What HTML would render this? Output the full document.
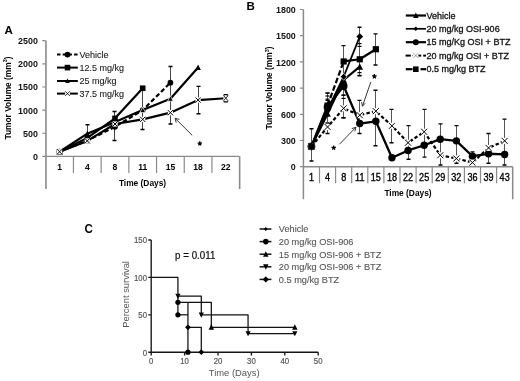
<!DOCTYPE html>
<html><head><meta charset="utf-8"><style>
html,body{margin:0;padding:0;background:#fff;}
body{width:520px;height:381px;overflow:hidden;}
svg{display:block;font-family:"Liberation Sans", sans-serif;filter:blur(0.35px);}
</style></head><body>
<svg width="520" height="381" viewBox="0 0 520 381">
<rect width="520" height="381" fill="#fff"/>
<text x="4.5" y="34.2" font-size="11.5" text-anchor="start" font-weight="bold" fill="#000">A</text>
<path d="M45.95 40.7V189M239.65 156.4V189" stroke="#8a8a8a" stroke-width="1.6" fill="none"/>
<path d="M45.75 156.4H239.65" stroke="#8a8a8a" stroke-width="1.4" fill="none"/>
<text transform="translate(37.9 159.9) scale(0.91 1)" font-size="9.8" text-anchor="end" font-weight="bold" fill="#111">0</text>
<text transform="translate(37.9 136.76) scale(0.91 1)" font-size="9.8" text-anchor="end" font-weight="bold" fill="#111">500</text>
<text transform="translate(37.9 113.62) scale(0.91 1)" font-size="9.8" text-anchor="end" font-weight="bold" fill="#111">1000</text>
<text transform="translate(37.9 90.48) scale(0.91 1)" font-size="9.8" text-anchor="end" font-weight="bold" fill="#111">1500</text>
<text transform="translate(37.9 67.34) scale(0.91 1)" font-size="9.8" text-anchor="end" font-weight="bold" fill="#111">2000</text>
<text transform="translate(37.9 44.2) scale(0.91 1)" font-size="9.8" text-anchor="end" font-weight="bold" fill="#111">2500</text>
<path d="M42.3 156.4H45.75M42.3 133.26H45.75M42.3 110.12H45.75M42.3 86.98H45.75M42.3 63.84H45.75M42.3 40.7H45.75M73.45 156.4V173M101.15 156.4V173M128.85 156.4V173M156.55 156.4V173M184.25 156.4V173M211.95 156.4V173" stroke="#8a8a8a" stroke-width="1.2" fill="none"/>
<text transform="translate(59.6 170.3) scale(0.93 1)" font-size="9.2" text-anchor="middle" font-weight="bold" fill="#000">1</text>
<text transform="translate(87.3 170.3) scale(0.93 1)" font-size="9.2" text-anchor="middle" font-weight="bold" fill="#000">4</text>
<text transform="translate(115 170.3) scale(0.93 1)" font-size="9.2" text-anchor="middle" font-weight="bold" fill="#000">8</text>
<text transform="translate(142.7 170.3) scale(0.93 1)" font-size="9.2" text-anchor="middle" font-weight="bold" fill="#000">11</text>
<text transform="translate(170.4 170.3) scale(0.93 1)" font-size="9.2" text-anchor="middle" font-weight="bold" fill="#000">15</text>
<text transform="translate(198.1 170.3) scale(0.93 1)" font-size="9.2" text-anchor="middle" font-weight="bold" fill="#000">18</text>
<text transform="translate(225.8 170.3) scale(0.93 1)" font-size="9.2" text-anchor="middle" font-weight="bold" fill="#000">22</text>
<text transform="translate(142.5 186.3) scale(0.92 1)" font-size="9.1" text-anchor="middle" font-weight="bold" fill="#000">Time (Days)</text>
<text transform="translate(10.5 98) rotate(-90) scale(0.92 1)" font-size="9.1" text-anchor="middle" font-weight="bold" fill="#000">Tumor Volume (mm<tspan font-size="6" dy="-3.2">3</tspan><tspan dy="3.2">)</tspan></text>
<path d="M87.5 124.7V141.13" stroke="#444" stroke-width="1" fill="none"/><path d="M85.5 124.7H89.5M85.5 141.13H89.5" stroke="#000" stroke-width="1.4" fill="none"/>
<path d="M114.5 111.51V140.48" stroke="#444" stroke-width="1" fill="none"/><path d="M112.5 111.51H116.5M112.5 140.48H116.5" stroke="#000" stroke-width="1.4" fill="none"/>
<path d="M142.5 88.37V129.56" stroke="#444" stroke-width="1" fill="none"/><path d="M140.5 88.37H144.5M140.5 129.56H144.5" stroke="#000" stroke-width="1.4" fill="none"/>
<path d="M170.5 66.43V124" stroke="#444" stroke-width="1" fill="none"/><path d="M168.5 66.43H172.5M168.5 124H172.5" stroke="#000" stroke-width="1.4" fill="none"/>
<path d="M198.5 86.33V113.68" stroke="#444" stroke-width="1" fill="none"/><path d="M196.5 86.33H200.5M196.5 113.68H200.5" stroke="#000" stroke-width="1.4" fill="none"/>
<path d="M59.6 151.77L87.3 140.9L115 124L142.7 119.38L170.4 112.67L198.1 100.08L225.8 98.27" stroke="#000" stroke-width="2.2" fill="none" stroke-linejoin="round"/>
<path d="M59.6 151.77L87.3 133.68L115 122.06L142.7 109.98L170.4 98.74L198.1 67.54" stroke="#000" stroke-width="2.2" fill="none" stroke-linejoin="round"/>
<path d="M59.6 151.77L87.3 137.89L115 118.36L142.7 88.23" stroke="#000" stroke-width="2.2" fill="none" stroke-linejoin="round"/>
<path d="M59.6 151.77L87.3 140.66L115 126.78L142.7 110.12L170.4 82.63" stroke="#000" stroke-width="2.2" fill="none" stroke-linejoin="round" stroke-dasharray="4.5 2.5"/>
<circle cx="59.6" cy="151.77" r="2.9" fill="#000"/>
<circle cx="87.3" cy="140.66" r="2.9" fill="#000"/>
<circle cx="115" cy="126.78" r="2.9" fill="#000"/>
<circle cx="142.7" cy="110.12" r="2.9" fill="#000"/>
<circle cx="170.4" cy="82.63" r="2.9" fill="#000"/>
<rect x="56.8" y="148.97" width="5.6" height="5.6" fill="#000"/>
<rect x="84.5" y="135.09" width="5.6" height="5.6" fill="#000"/>
<rect x="112.2" y="115.56" width="5.6" height="5.6" fill="#000"/>
<rect x="139.9" y="85.43" width="5.6" height="5.6" fill="#000"/>
<path d="M59.6 148.75L62.4 154.29L56.8 154.29Z" fill="#000"/>
<path d="M87.3 130.66L90.1 136.2L84.5 136.2Z" fill="#000"/>
<path d="M115 119.04L117.8 124.58L112.2 124.58Z" fill="#000"/>
<path d="M142.7 106.96L145.5 112.5L139.9 112.5Z" fill="#000" stroke="#fff" stroke-width="0.7"/>
<path d="M170.4 95.72L173.2 101.26L167.6 101.26Z" fill="#000" stroke="#fff" stroke-width="0.7"/>
<path d="M198.1 64.52L200.9 70.06L195.3 70.06Z" fill="#000"/>
<rect x="57" y="149.17" width="5.2" height="5.2" fill="#fff"/><path d="M57 149.17L62.2 154.37M62.2 149.17L57 154.37" stroke="#000" stroke-width="1" fill="none"/>
<rect x="84.7" y="138.3" width="5.2" height="5.2" fill="#fff"/><path d="M84.7 138.3L89.9 143.5M89.9 138.3L84.7 143.5" stroke="#000" stroke-width="1" fill="none"/>
<rect x="112.4" y="121.4" width="5.2" height="5.2" fill="#fff"/><path d="M112.4 121.4L117.6 126.6M117.6 121.4L112.4 126.6" stroke="#000" stroke-width="1" fill="none"/>
<rect x="140.1" y="116.78" width="5.2" height="5.2" fill="#fff"/><path d="M140.1 116.78L145.3 121.98M145.3 116.78L140.1 121.98" stroke="#000" stroke-width="1" fill="none"/>
<rect x="167.8" y="110.07" width="5.2" height="5.2" fill="#fff"/><path d="M167.8 110.07L173 115.27M173 110.07L167.8 115.27" stroke="#000" stroke-width="1" fill="none"/>
<rect x="195.5" y="97.48" width="5.2" height="5.2" fill="#fff"/><path d="M195.5 97.48L200.7 102.68M200.7 97.48L195.5 102.68" stroke="#000" stroke-width="1" fill="none"/>
<rect x="223.4" y="94.2" width="4.8" height="8" fill="#fff"/>
<path d="M223.9 94.6H227.7M223.9 101.8H227.7" stroke="#000" stroke-width="1.3" fill="none"/>
<path d="M223.9 94.6Q222.8 95.5 225.8 98.2T227.7 101.8M227.7 94.6Q228.8 95.5 225.8 98.2T223.9 101.8" stroke="#000" stroke-width="0.9" fill="none"/>
<path d="M192.2 135.3L175.6 118.8" stroke="#222" stroke-width="0.9" fill="none"/>
<path d="M175.1 118.3L176.2 122.6M175.1 118.3L179.4 119.4" stroke="#222" stroke-width="0.9" fill="none"/>
<path d="M199.8 143.5L199.8 141.2M199.8 143.5L201.99 142.79M199.8 143.5L201.15 145.36M199.8 143.5L198.45 145.36M199.8 143.5L197.61 142.79" stroke="#000" stroke-width="1.3" fill="none"/>
<path d="M57 54.6L77.8 54.6" stroke="#000" stroke-width="2" fill="none" stroke-linejoin="round" stroke-dasharray="3.5 2.2"/>
<circle cx="67.5" cy="54.6" r="2.9" fill="#000"/>
<text x="79.6" y="57.8" font-size="9" text-anchor="start" font-weight="normal" fill="#151515" stroke="#151515" stroke-width="0.08">Vehicle</text>
<path d="M57 67.6L77.8 67.6" stroke="#000" stroke-width="2" fill="none" stroke-linejoin="round"/>
<rect x="64.7" y="64.8" width="5.6" height="5.6" fill="#000"/>
<text x="79.6" y="70.8" font-size="9" text-anchor="start" font-weight="normal" fill="#151515" stroke="#151515" stroke-width="0.08">12.5 mg/kg</text>
<path d="M57 81L77.8 81" stroke="#000" stroke-width="2" fill="none" stroke-linejoin="round"/>
<path d="M67.5 78.47L69.75 83.03L65.25 83.03Z" fill="#000"/>
<text x="79.6" y="84.2" font-size="9" text-anchor="start" font-weight="normal" fill="#151515" stroke="#151515" stroke-width="0.08">25 mg/kg</text>
<path d="M57 93.6L77.8 93.6" stroke="#000" stroke-width="2" fill="none" stroke-linejoin="round"/>
<rect x="65.1" y="91.2" width="4.8" height="4.8" fill="#fff"/><path d="M65.1 91.2L69.9 96M69.9 91.2L65.1 96" stroke="#000" stroke-width="0.8" fill="none"/>
<text x="79.6" y="96.8" font-size="9" text-anchor="start" font-weight="normal" fill="#151515" stroke="#151515" stroke-width="0.08">37.5 mg/kg</text>
<text x="246.5" y="9.9" font-size="11.5" text-anchor="start" font-weight="bold" fill="#000">B</text>
<path d="M303.4 9.45V199.3M512.7 166.7V199.3" stroke="#8a8a8a" stroke-width="1.5" fill="none"/>
<path d="M303.4 166.7H512.7" stroke="#8a8a8a" stroke-width="1.4" fill="none"/>
<text transform="translate(295.8 170.3) scale(0.91 1)" font-size="9.8" text-anchor="end" font-weight="bold" fill="#111">0</text>
<text transform="translate(295.8 144.1) scale(0.91 1)" font-size="9.8" text-anchor="end" font-weight="bold" fill="#111">300</text>
<text transform="translate(295.8 117.9) scale(0.91 1)" font-size="9.8" text-anchor="end" font-weight="bold" fill="#111">600</text>
<text transform="translate(295.8 91.7) scale(0.91 1)" font-size="9.8" text-anchor="end" font-weight="bold" fill="#111">900</text>
<text transform="translate(295.8 65.5) scale(0.91 1)" font-size="9.8" text-anchor="end" font-weight="bold" fill="#111">1200</text>
<text transform="translate(295.8 39.3) scale(0.91 1)" font-size="9.8" text-anchor="end" font-weight="bold" fill="#111">1500</text>
<text transform="translate(295.8 13.1) scale(0.91 1)" font-size="9.8" text-anchor="end" font-weight="bold" fill="#111">1800</text>
<path d="M300 166.7H303.4M300 140.5H303.4M300 114.3H303.4M300 88.1H303.4M300 61.9H303.4M300 35.7H303.4M300 9.5H303.4M319.5 166.7V183.2M335.6 166.7V183.2M351.7 166.7V183.2M367.8 166.7V183.2M383.9 166.7V183.2M400 166.7V183.2M416.1 166.7V183.2M432.2 166.7V183.2M448.3 166.7V183.2M464.4 166.7V183.2M480.5 166.7V183.2M496.6 166.7V183.2" stroke="#8a8a8a" stroke-width="1.2" fill="none"/>
<text transform="translate(311.45 180.9) scale(0.88 1)" font-size="10.3" text-anchor="middle" font-weight="normal" fill="#000" stroke="#000" stroke-width="0.35">1</text>
<text transform="translate(327.55 180.9) scale(0.88 1)" font-size="10.3" text-anchor="middle" font-weight="normal" fill="#000" stroke="#000" stroke-width="0.35">4</text>
<text transform="translate(343.65 180.9) scale(0.88 1)" font-size="10.3" text-anchor="middle" font-weight="normal" fill="#000" stroke="#000" stroke-width="0.35">8</text>
<text transform="translate(359.75 180.9) scale(0.88 1)" font-size="10.3" text-anchor="middle" font-weight="normal" fill="#000" stroke="#000" stroke-width="0.35">11</text>
<text transform="translate(375.85 180.9) scale(0.88 1)" font-size="10.3" text-anchor="middle" font-weight="normal" fill="#000" stroke="#000" stroke-width="0.35">15</text>
<text transform="translate(391.95 180.9) scale(0.88 1)" font-size="10.3" text-anchor="middle" font-weight="normal" fill="#000" stroke="#000" stroke-width="0.35">18</text>
<text transform="translate(408.05 180.9) scale(0.88 1)" font-size="10.3" text-anchor="middle" font-weight="normal" fill="#000" stroke="#000" stroke-width="0.35">22</text>
<text transform="translate(424.15 180.9) scale(0.88 1)" font-size="10.3" text-anchor="middle" font-weight="normal" fill="#000" stroke="#000" stroke-width="0.35">25</text>
<text transform="translate(440.25 180.9) scale(0.88 1)" font-size="10.3" text-anchor="middle" font-weight="normal" fill="#000" stroke="#000" stroke-width="0.35">29</text>
<text transform="translate(456.35 180.9) scale(0.88 1)" font-size="10.3" text-anchor="middle" font-weight="normal" fill="#000" stroke="#000" stroke-width="0.35">32</text>
<text transform="translate(472.45 180.9) scale(0.88 1)" font-size="10.3" text-anchor="middle" font-weight="normal" fill="#000" stroke="#000" stroke-width="0.35">36</text>
<text transform="translate(488.55 180.9) scale(0.88 1)" font-size="10.3" text-anchor="middle" font-weight="normal" fill="#000" stroke="#000" stroke-width="0.35">39</text>
<text transform="translate(504.65 180.9) scale(0.88 1)" font-size="10.3" text-anchor="middle" font-weight="normal" fill="#000" stroke="#000" stroke-width="0.35">43</text>
<text transform="translate(408 196.2) scale(0.92 1)" font-size="9.1" text-anchor="middle" font-weight="bold" fill="#000">Time (Days)</text>
<text transform="translate(272 88) rotate(-90) scale(0.92 1)" font-size="9.1" text-anchor="middle" font-weight="bold" fill="#000">Tumor Volume (mm<tspan font-size="6" dy="-3.2">3</tspan><tspan dy="3.2">)</tspan></text>
<path d="M311.5 128.71V160.94" stroke="#555" stroke-width="1" fill="none"/><path d="M309.5 128.71H313.5M309.5 160.94H313.5" stroke="#000" stroke-width="1.4" fill="none"/>
<path d="M327.5 93.17V123.03" stroke="#555" stroke-width="1" fill="none"/><path d="M325.5 93.17H329.5M325.5 123.03H329.5" stroke="#000" stroke-width="1.4" fill="none"/>
<path d="M343.5 45.66V117.79" stroke="#555" stroke-width="1" fill="none"/><path d="M341.5 45.66H345.5M341.5 117.79H345.5" stroke="#000" stroke-width="1.4" fill="none"/>
<path d="M359.5 27.23V75.87" stroke="#555" stroke-width="1" fill="none"/><path d="M357.5 27.23H361.5M357.5 75.87H361.5" stroke="#000" stroke-width="1.4" fill="none"/>
<path d="M375.5 33.87V65.04" stroke="#555" stroke-width="1" fill="none"/><path d="M373.5 33.87H377.5M373.5 65.04H377.5" stroke="#000" stroke-width="1.4" fill="none"/>
<path d="M359.5 100.33V133.51" stroke="#555" stroke-width="1" fill="none"/><path d="M357.5 100.33H361.5M357.5 133.51H361.5" stroke="#000" stroke-width="1.4" fill="none"/>
<path d="M375.5 90.28V145.74" stroke="#555" stroke-width="1" fill="none"/><path d="M373.5 90.28H377.5M373.5 145.74H377.5" stroke="#000" stroke-width="1.4" fill="none"/>
<path d="M391.5 109.41V142.68" stroke="#555" stroke-width="1" fill="none"/><path d="M389.5 109.41H393.5M389.5 142.68H393.5" stroke="#000" stroke-width="1.4" fill="none"/>
<path d="M408.5 125.65V159.28" stroke="#555" stroke-width="1" fill="none"/><path d="M406.5 125.65H410.5M406.5 159.28H410.5" stroke="#000" stroke-width="1.4" fill="none"/>
<path d="M424.5 109.41V157.09" stroke="#555" stroke-width="1" fill="none"/><path d="M422.5 109.41H426.5M422.5 157.09H426.5" stroke="#000" stroke-width="1.4" fill="none"/>
<path d="M440.5 123.91V164.95" stroke="#555" stroke-width="1" fill="none"/><path d="M438.5 123.91H442.5M438.5 164.95H442.5" stroke="#000" stroke-width="1.4" fill="none"/>
<path d="M456.5 125.65V163.21" stroke="#555" stroke-width="1" fill="none"/><path d="M454.5 125.65H458.5M454.5 163.21H458.5" stroke="#000" stroke-width="1.4" fill="none"/>
<path d="M472.5 151.85V164.08" stroke="#555" stroke-width="1" fill="none"/><path d="M470.5 151.85H474.5M470.5 164.08H474.5" stroke="#000" stroke-width="1.4" fill="none"/>
<path d="M488.5 133.51V163.21" stroke="#555" stroke-width="1" fill="none"/><path d="M486.5 133.51H490.5M486.5 163.21H490.5" stroke="#000" stroke-width="1.4" fill="none"/>
<path d="M504.5 119.1V164.95" stroke="#555" stroke-width="1" fill="none"/><path d="M502.5 119.1H506.5M502.5 164.95H506.5" stroke="#000" stroke-width="1.4" fill="none"/>
<path d="M327.5 100.33V133.51" stroke="#555" stroke-width="1" fill="none"/><path d="M325.5 100.33H329.5M325.5 133.51H329.5" stroke="#000" stroke-width="1.4" fill="none"/>
<path d="M343.5 95.09V117.79" stroke="#555" stroke-width="1" fill="none"/><path d="M341.5 95.09H345.5M341.5 117.79H345.5" stroke="#000" stroke-width="1.4" fill="none"/>
<path d="M357.5 43.6H361.5" stroke="#000" stroke-width="1.2" fill="none"/>
<path d="M357.5 46.4H361.5" stroke="#000" stroke-width="1.2" fill="none"/>
<path d="M357.5 72.6H361.5" stroke="#000" stroke-width="1.2" fill="none"/>
<path d="M357.5 75.4H361.5" stroke="#000" stroke-width="1.2" fill="none"/>
<path d="M341.5 95.2H345.5" stroke="#000" stroke-width="1.2" fill="none"/>
<path d="M341.5 98.4H345.5" stroke="#000" stroke-width="1.2" fill="none"/>
<path d="M325.5 93H329.5" stroke="#000" stroke-width="1.2" fill="none"/>
<path d="M325.5 96H329.5" stroke="#000" stroke-width="1.2" fill="none"/>
<path d="M325.5 99.2H329.5" stroke="#000" stroke-width="1.2" fill="none"/>
<path d="M311.45 146.35L327.55 126.96L343.65 108.36L359.75 115.17L375.85 111.16L391.95 125.83L408.05 142.68L424.15 131.77L440.25 155.26L456.35 158.49L472.45 162.6L488.55 147.92L504.65 140.85" stroke="#000" stroke-width="2.2" fill="none" stroke-linejoin="round" stroke-dasharray="3.5 2.2"/>
<path d="M311.45 146.35L327.55 106.88L343.65 86L359.75 123.56L375.85 121.29L391.95 157.79L408.05 150.46L424.15 145.22L440.25 139.19L456.35 140.85L472.45 156.22L488.55 153.77L504.65 154.47" stroke="#000" stroke-width="2.3" fill="none" stroke-linejoin="round"/>
<path d="M311.45 146.35L327.55 105.57" stroke="#000" stroke-width="2.2" fill="none" stroke-linejoin="round"/>
<path d="M327.55 105.57L343.65 61.46" stroke="#000" stroke-width="2.2" fill="none" stroke-linejoin="round" stroke-dasharray="5.5 2.5"/>
<path d="M343.65 61.46L359.75 59.28L375.85 49.24" stroke="#000" stroke-width="2.2" fill="none" stroke-linejoin="round"/>
<path d="M311.45 146.35L327.55 113.78L343.65 79.98L359.75 66.7" stroke="#000" stroke-width="2.2" fill="none" stroke-linejoin="round"/>
<path d="M311.45 146.35L327.55 109.93L343.65 76.75L359.75 36.57" stroke="#000" stroke-width="1.8" fill="none" stroke-linejoin="round"/>
<circle cx="311.45" cy="146.35" r="3.9" fill="#000"/>
<circle cx="327.55" cy="106.88" r="3.9" fill="#000"/>
<circle cx="343.65" cy="86" r="3.9" fill="#000"/>
<circle cx="359.75" cy="123.56" r="3.7" fill="#000"/>
<circle cx="375.85" cy="121.29" r="3.7" fill="#000"/>
<circle cx="391.95" cy="157.79" r="3.7" fill="#000"/>
<circle cx="408.05" cy="150.46" r="3.7" fill="#000"/>
<circle cx="424.15" cy="145.22" r="3.7" fill="#000"/>
<circle cx="440.25" cy="139.19" r="3.7" fill="#000"/>
<circle cx="456.35" cy="140.85" r="3.7" fill="#000"/>
<circle cx="472.45" cy="156.22" r="3.7" fill="#000"/>
<circle cx="488.55" cy="153.77" r="3.7" fill="#000"/>
<circle cx="504.65" cy="154.47" r="3.7" fill="#000"/>
<rect x="308.45" y="143.35" width="6" height="6" fill="#fff"/><path d="M308.45 143.35L314.45 149.35M314.45 143.35L308.45 149.35" stroke="#000" stroke-width="1" fill="none"/>
<rect x="324.55" y="123.96" width="6" height="6" fill="#fff"/><path d="M324.55 123.96L330.55 129.96M330.55 123.96L324.55 129.96" stroke="#000" stroke-width="1" fill="none"/>
<rect x="340.65" y="105.36" width="6" height="6" fill="#fff"/><path d="M340.65 105.36L346.65 111.36M346.65 105.36L340.65 111.36" stroke="#000" stroke-width="1" fill="none"/>
<rect x="356.75" y="112.17" width="6" height="6" fill="#fff"/><path d="M356.75 112.17L362.75 118.17M362.75 112.17L356.75 118.17" stroke="#000" stroke-width="1" fill="none"/>
<rect x="372.85" y="108.16" width="6" height="6" fill="#fff"/><path d="M372.85 108.16L378.85 114.16M378.85 108.16L372.85 114.16" stroke="#000" stroke-width="1" fill="none"/>
<rect x="388.95" y="122.83" width="6" height="6" fill="#fff"/><path d="M388.95 122.83L394.95 128.83M394.95 122.83L388.95 128.83" stroke="#000" stroke-width="1" fill="none"/>
<rect x="405.05" y="139.68" width="6" height="6" fill="#fff"/><path d="M405.05 139.68L411.05 145.68M411.05 139.68L405.05 145.68" stroke="#000" stroke-width="1" fill="none"/>
<rect x="421.15" y="128.77" width="6" height="6" fill="#fff"/><path d="M421.15 128.77L427.15 134.77M427.15 128.77L421.15 134.77" stroke="#000" stroke-width="1" fill="none"/>
<rect x="437.25" y="152.26" width="6" height="6" fill="#fff"/><path d="M437.25 152.26L443.25 158.26M443.25 152.26L437.25 158.26" stroke="#000" stroke-width="1" fill="none"/>
<rect x="453.35" y="155.49" width="6" height="6" fill="#fff"/><path d="M453.35 155.49L459.35 161.49M459.35 155.49L453.35 161.49" stroke="#000" stroke-width="1" fill="none"/>
<rect x="469.45" y="159.6" width="6" height="6" fill="#fff"/><path d="M469.45 159.6L475.45 165.6M475.45 159.6L469.45 165.6" stroke="#000" stroke-width="1" fill="none"/>
<rect x="485.55" y="144.92" width="6" height="6" fill="#fff"/><path d="M485.55 144.92L491.55 150.92M491.55 144.92L485.55 150.92" stroke="#000" stroke-width="1" fill="none"/>
<rect x="501.65" y="137.85" width="6" height="6" fill="#fff"/><path d="M501.65 137.85L507.65 143.85M507.65 137.85L501.65 143.85" stroke="#000" stroke-width="1" fill="none"/>
<rect x="308.35" y="143.25" width="6.2" height="6.2" fill="#000"/>
<rect x="324.45" y="102.47" width="6.2" height="6.2" fill="#000"/>
<rect x="340.55" y="58.36" width="6.2" height="6.2" fill="#000"/>
<rect x="356.65" y="56.18" width="6.2" height="6.2" fill="#000"/>
<rect x="372.75" y="46.14" width="6.2" height="6.2" fill="#000"/>
<path d="M311.45 142.88L314.75 149.32L308.15 149.32Z" fill="#000"/>
<path d="M327.55 110.31L330.85 116.75L324.25 116.75Z" fill="#000"/>
<path d="M343.65 76.51L346.95 82.95L340.35 82.95Z" fill="#000"/>
<path d="M359.75 63.23L363.05 69.67L356.45 69.67Z" fill="#000"/>
<path d="M311.45 142.95L314.85 146.35L311.45 149.75L308.05 146.35Z" fill="#000"/>
<path d="M327.55 106.53L330.95 109.93L327.55 113.33L324.15 109.93Z" fill="#000"/>
<path d="M343.65 73.35L347.05 76.75L343.65 80.15L340.25 76.75Z" fill="#000" stroke="#fff" stroke-width="0.7"/>
<path d="M359.75 33.17L363.15 36.57L359.75 39.97L356.35 36.57Z" fill="#000"/>
<path d="M333.7 147.8L333.7 145.5M333.7 147.8L335.89 147.09M333.7 147.8L335.05 149.66M333.7 147.8L332.35 149.66M333.7 147.8L331.51 147.09" stroke="#000" stroke-width="1.3" fill="none"/>
<path d="M339.4 144.3L355.6 127.6" stroke="#222" stroke-width="0.9" fill="none"/>
<path d="M356 127.2L351.8 128.6M356 127.2L354.8 131.4" stroke="#222" stroke-width="0.9" fill="none"/>
<path d="M374.4 76.4L374.4 74.1M374.4 76.4L376.59 75.69M374.4 76.4L375.75 78.26M374.4 76.4L373.05 78.26M374.4 76.4L372.21 75.69" stroke="#000" stroke-width="1.3" fill="none"/>
<path d="M370.8 82L362.6 105.8" stroke="#222" stroke-width="0.9" fill="none"/>
<path d="M362.4 106.3L361.6 102.2M362.4 106.3L365.2 103.2" stroke="#222" stroke-width="0.9" fill="none"/>
<path d="M405.8 15.5L426 15.5" stroke="#000" stroke-width="2.2" fill="none" stroke-linejoin="round"/>
<path d="M415.8 12.53L418.55 17.98L413.05 17.98Z" fill="#000"/>
<text x="426.6" y="18.7" font-size="9" text-anchor="start" font-weight="normal" fill="#111" stroke="#111" stroke-width="0.3">Vehicle</text>
<path d="M405.8 28.8L426 28.8" stroke="#000" stroke-width="1.7" fill="none" stroke-linejoin="round"/>
<path d="M415.8 26.5L418.1 28.8L415.8 31.1L413.5 28.8Z" fill="#000"/>
<text x="426.6" y="32" font-size="9" text-anchor="start" font-weight="normal" fill="#111" stroke="#111" stroke-width="0.3">20 mg/kg OSI-906</text>
<path d="M405.8 42.2L426 42.2" stroke="#000" stroke-width="2.2" fill="none" stroke-linejoin="round"/>
<circle cx="415.8" cy="42.2" r="3" fill="#000"/>
<text x="426.6" y="45.4" font-size="9" text-anchor="start" font-weight="normal" fill="#111" stroke="#111" stroke-width="0.3">15 mg/Kg OSI + BTZ</text>
<path d="M405.6 55.6L410.8 55.6" stroke="#000" stroke-width="2" fill="none" stroke-linejoin="round"/>
<path d="M418.4 55.6L421.2 55.6" stroke="#000" stroke-width="2" fill="none" stroke-linejoin="round"/>
<path d="M423.2 55.6L426 55.6" stroke="#000" stroke-width="2" fill="none" stroke-linejoin="round"/>
<path d="M412.2 55.6L413.2 55.6" stroke="#888" stroke-width="1.2" fill="none" stroke-linejoin="round"/>
<path d="M413.5 53.3L418.1 57.9M418.1 53.3L413.5 57.9" stroke="#777" stroke-width="0.7" fill="none"/>
<text x="426.6" y="58.8" font-size="9" text-anchor="start" font-weight="normal" fill="#111" stroke="#111" stroke-width="0.3">20 mg/kg OSI + BTZ</text>
<path d="M405.8 69.2L412.5 69.2" stroke="#000" stroke-width="2.2" fill="none" stroke-linejoin="round"/>
<path d="M420.5 69.2L426 69.2" stroke="#000" stroke-width="2.2" fill="none" stroke-linejoin="round"/>
<rect x="413" y="66.4" width="5.6" height="5.6" fill="#000"/>
<text x="426.6" y="72.4" font-size="9" text-anchor="start" font-weight="normal" fill="#111" stroke="#111" stroke-width="0.3">0.5 mg/kg BTZ</text>
<text transform="translate(84.4 232.6) scale(0.95 1)" font-size="12.2" text-anchor="start" font-weight="bold" fill="#000">C</text>
<text transform="translate(147 355.5) scale(0.84 1)" font-size="9.3" text-anchor="end" font-weight="normal" fill="#555" stroke="#555" stroke-width="0.2">0</text>
<text transform="translate(147 318.1) scale(0.84 1)" font-size="9.3" text-anchor="end" font-weight="normal" fill="#555" stroke="#555" stroke-width="0.2">50</text>
<text transform="translate(147 280.7) scale(0.84 1)" font-size="9.3" text-anchor="end" font-weight="normal" fill="#555" stroke="#555" stroke-width="0.2">100</text>
<text transform="translate(147 243.3) scale(0.84 1)" font-size="9.3" text-anchor="end" font-weight="normal" fill="#555" stroke="#555" stroke-width="0.2">150</text>
<text transform="translate(151.2 364.4) scale(0.84 1)" font-size="9.3" text-anchor="middle" font-weight="normal" fill="#555" stroke="#555" stroke-width="0.2">0</text>
<text transform="translate(184.6 364.4) scale(0.84 1)" font-size="9.3" text-anchor="middle" font-weight="normal" fill="#555" stroke="#555" stroke-width="0.2">10</text>
<text transform="translate(218 364.4) scale(0.84 1)" font-size="9.3" text-anchor="middle" font-weight="normal" fill="#555" stroke="#555" stroke-width="0.2">20</text>
<text transform="translate(251.4 364.4) scale(0.84 1)" font-size="9.3" text-anchor="middle" font-weight="normal" fill="#555" stroke="#555" stroke-width="0.2">30</text>
<text transform="translate(284.8 364.4) scale(0.84 1)" font-size="9.3" text-anchor="middle" font-weight="normal" fill="#555" stroke="#555" stroke-width="0.2">40</text>
<text transform="translate(318.2 364.4) scale(0.84 1)" font-size="9.3" text-anchor="middle" font-weight="normal" fill="#555" stroke="#555" stroke-width="0.2">50</text>
<path d="M151.2 240V352.2H318.2M148.3 352.2H151.2M148.3 314.8H151.2M148.3 277.4H151.2M148.3 240H151.2M151.2 352.2V355.6M184.6 352.2V355.6M218 352.2V355.6M251.4 352.2V355.6M284.8 352.2V355.6M318.2 352.2V355.6" stroke="#151515" stroke-width="1.35" fill="none"/>
<text x="234.2" y="376.3" font-size="9.4" text-anchor="middle" font-weight="normal" fill="#555">Time (Days)</text>
<text transform="translate(128.6 294.4) rotate(-90)" font-size="9.4" text-anchor="middle" font-weight="normal" fill="#555">Percent survival</text>
<text transform="translate(175.1 258.8) scale(0.93 1)" font-size="10.5" text-anchor="start" font-weight="normal" fill="#111" stroke="#111" stroke-width="0.22">p = 0.011</text>
<path d="M151.2 277.4L177.92 277.4L177.92 314.8" stroke="#111" stroke-width="1.25" fill="none" stroke-linejoin="round"/>
<path d="M177.92 296.1L201.3 296.1L201.3 314.8L248.06 314.8L248.06 333.5L294.82 333.5" stroke="#111" stroke-width="1.25" fill="none" stroke-linejoin="round"/>
<path d="M177.92 302.31L211.32 302.31L211.32 327.29L294.82 327.29" stroke="#111" stroke-width="1.25" fill="none" stroke-linejoin="round"/>
<path d="M187.94 302.31L187.94 352.2" stroke="#111" stroke-width="1.25" fill="none" stroke-linejoin="round"/>
<path d="M187.94 327.29L201.3 327.29L201.3 352.2" stroke="#111" stroke-width="1.25" fill="none" stroke-linejoin="round"/>
<path d="M177.92 314.8L187.94 314.8" stroke="#111" stroke-width="1.25" fill="none" stroke-linejoin="round"/>
<path d="M177.92 298.94L180.52 293.76L175.32 293.76Z" fill="#000"/>
<path d="M201.3 317.64L203.9 312.46L198.7 312.46Z" fill="#000"/>
<path d="M248.06 336.34L250.66 331.16L245.46 331.16Z" fill="#000"/>
<path d="M294.82 336.34L297.42 331.16L292.22 331.16Z" fill="#000"/>
<path d="M211.32 324.36L214.02 329.72L208.62 329.72Z" fill="#000"/>
<path d="M294.82 324.36L297.52 329.72L292.12 329.72Z" fill="#000"/>
<circle cx="177.92" cy="302.31" r="2.6" fill="#000"/>
<circle cx="177.92" cy="314.8" r="2.6" fill="#000"/>
<circle cx="187.94" cy="352.2" r="2.6" fill="#000"/>
<path d="M187.94 324.39L190.84 327.29L187.94 330.19L185.04 327.29Z" fill="#000"/>
<path d="M201.3 349.3L204.2 352.2L201.3 355.1L198.4 352.2Z" fill="#000"/>
<path d="M259.6 229L271.4 229" stroke="#111" stroke-width="1.5" fill="none" stroke-linejoin="round"/>
<path d="M265.8 227.1L267.7 229L265.8 230.9L263.9 229Z" fill="#000"/>
<text transform="translate(278.8 232.4) scale(0.98 1)" font-size="9.4" text-anchor="start" font-weight="normal" fill="#555" stroke="#555" stroke-width="0.1">Vehicle</text>
<path d="M259.6 241.6L271.4 241.6" stroke="#111" stroke-width="1.5" fill="none" stroke-linejoin="round"/>
<circle cx="265.8" cy="241.6" r="2.8" fill="#000"/>
<text transform="translate(278.8 245) scale(0.98 1)" font-size="9.4" text-anchor="start" font-weight="normal" fill="#555" stroke="#555" stroke-width="0.1">20 mg/kg OSI-906</text>
<path d="M259.6 254.2L271.4 254.2" stroke="#111" stroke-width="1.5" fill="none" stroke-linejoin="round"/>
<path d="M265.8 251.27L268.5 256.63L263.1 256.63Z" fill="#000"/>
<text transform="translate(278.8 257.6) scale(0.98 1)" font-size="9.4" text-anchor="start" font-weight="normal" fill="#555" stroke="#555" stroke-width="0.1">15 mg/kg OSI-906 + BTZ</text>
<path d="M259.6 266.8L271.4 266.8" stroke="#111" stroke-width="1.5" fill="none" stroke-linejoin="round"/>
<path d="M265.8 269.73L268.5 264.37L263.1 264.37Z" fill="#000"/>
<text transform="translate(278.8 270.2) scale(0.98 1)" font-size="9.4" text-anchor="start" font-weight="normal" fill="#555" stroke="#555" stroke-width="0.1">20 mg/kg OSI-906 + BTZ</text>
<path d="M259.6 279.4L271.4 279.4" stroke="#111" stroke-width="1.5" fill="none" stroke-linejoin="round"/>
<path d="M265.8 276.3L268.9 279.4L265.8 282.5L262.7 279.4Z" fill="#000"/>
<text transform="translate(278.8 282.8) scale(0.98 1)" font-size="9.4" text-anchor="start" font-weight="normal" fill="#555" stroke="#555" stroke-width="0.1">0.5 mg/kg BTZ</text>
</svg>
</body></html>
